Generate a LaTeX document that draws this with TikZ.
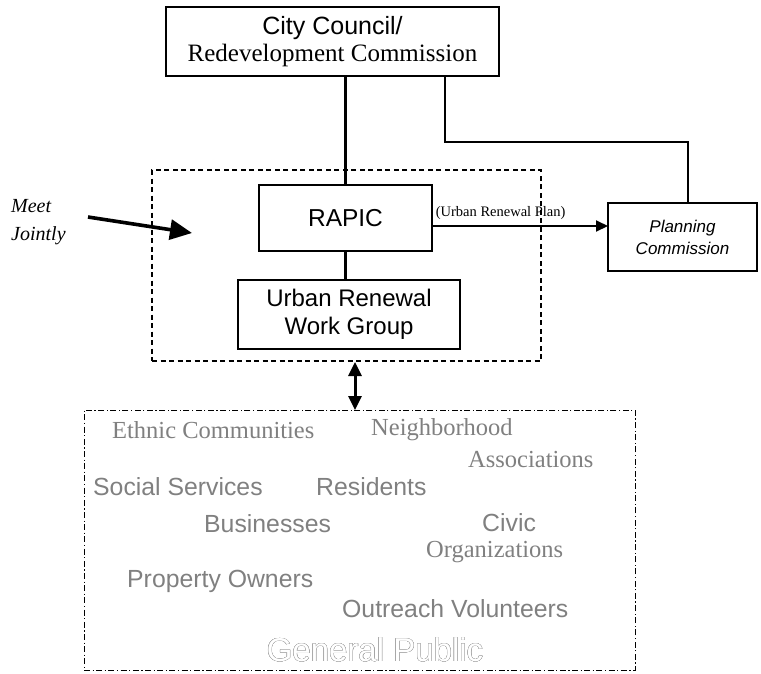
\documentclass[tikz,border=0pt]{standalone}
\usepackage{fontspec}
\setmainfont{Liberation Serif}
\setsansfont{Liberation Sans}
\usepackage{contour}
\contourlength{0.3pt}
\usetikzlibrary{arrows.meta}
\definecolor{pubgray}{HTML}{808080}
\definecolor{outgray}{HTML}{A0A0A0}
\begin{document}
\begin{tikzpicture}[x=1pt,y=-1pt,
  box/.style={draw,line width=1.3pt,inner sep=0pt,align=center},
  conn/.style={line width=2.6pt},
  pubtxt/.style={text=pubgray,inner sep=0pt,anchor=west},
  sanstxt/.style={pubtxt,font=\sffamily\fontsize{24.8}{28}\selectfont},
  seriftxt/.style={pubtxt,font=\rmfamily\fontsize{24.5}{28}\selectfont}]
\useasboundingbox (0,0) rectangle (761,673);
% boxes
\node[box,minimum width=333pt,minimum height=69pt] (council) at (332.5,41.5)
  {{\sffamily\fontsize{25}{28}\selectfont City Council/}\\[3pt]{\rmfamily\fontsize{25}{28}\selectfont Redevelopment Commission}};
\node[box,minimum width=173pt,minimum height=66pt,font=\sffamily\fontsize{24.5}{28}\selectfont] (rapic) at (345.5,218) {RAPIC};
\node[box,minimum width=222pt,minimum height=69pt,font=\sffamily\fontsize{24}{28}\selectfont] (urwg) at (349,314.5) {Urban Renewal\\Work Group};
\node[box,minimum width=149pt,minimum height=68pt,font=\sffamily\itshape\fontsize{17}{22}\selectfont] (plan) at (682.5,237) {Planning\\Commission};
% dashed group box
\node[draw,line width=2pt,dash pattern=on 5pt off 3.5pt,inner sep=0pt,minimum width=389pt,minimum height=191pt] (group) at (346.5,265.5) {};
% public box
\node[draw,line width=1pt,dash pattern=on 6pt off 2.5pt on 1.2pt off 2.5pt,inner sep=0pt,minimum width=551pt,minimum height=260pt] (public) at (359.5,540) {};
% connectors
\draw[conn] (council.south -| rapic.north) -- (rapic.north);
\coordinate (cA) at (445,76);
\coordinate (cB) at (445,142);
\coordinate (cC) at (688,142);
\coordinate (cD) at (688,203);
\draw[conn] (cA) -- (cB) -- (cC) -- (cD);
\draw[conn] (rapic.south) -- (rapic.south |- urwg.north);
\coordinate (rA) at (432,226);
\coordinate (rB) at (608,226);
\draw[line width=2pt,-{Triangle[length=12pt,width=11pt]}] (rA) -- (rB)
  node[pos=0.39,above=2pt,font=\rmfamily\fontsize{14.5}{16}\selectfont] (plantxt) {(Urban Renewal Plan)};
\coordinate (dA) at (355,362);
\coordinate (dB) at (355,410);
\draw[line width=3pt,{Triangle[length=14pt,width=13pt]}-{Triangle[length=14pt,width=13pt]}] (dA) -- (dB);
% meet jointly
\node[font=\rmfamily\itshape\fontsize{20}{28}\selectfont,align=left,anchor=west,inner sep=0pt] (meet) at (11,222) {Meet\\Jointly};
\coordinate (mA) at (88,217);
\coordinate (mB) at (192,233);
\draw[line width=3.6pt,-{Triangle[length=22pt,width=20pt]}] (mA) -- (mB);
% public texts
\node[seriftxt] (t1) at (112,430) {Ethnic Communities};
\node[seriftxt] (t2) at (371,430) {Neighborhood};
\node[seriftxt] (t3) at (468,460) {Associations};
\node[sanstxt] (t4) at (93,487) {Social Services};
\node[sanstxt] (t5) at (316,487) {Residents};
\node[sanstxt] (t6) at (204,524) {Businesses};
\node[sanstxt] (t7) at (482,523) {Civic};
\node[seriftxt] (t8) at (426,552) {Organizations};
\node[sanstxt] (t9) at (127,581) {Property Owners};
\node[sanstxt] (t10) at (342,609) {Outreach Volunteers};
\node[inner sep=0pt,font=\sffamily\fontsize{33}{36}\selectfont] (gp) at (375,650) {\contour{outgray}{\textcolor{white}{General Public}}};
\end{tikzpicture}
\end{document}
